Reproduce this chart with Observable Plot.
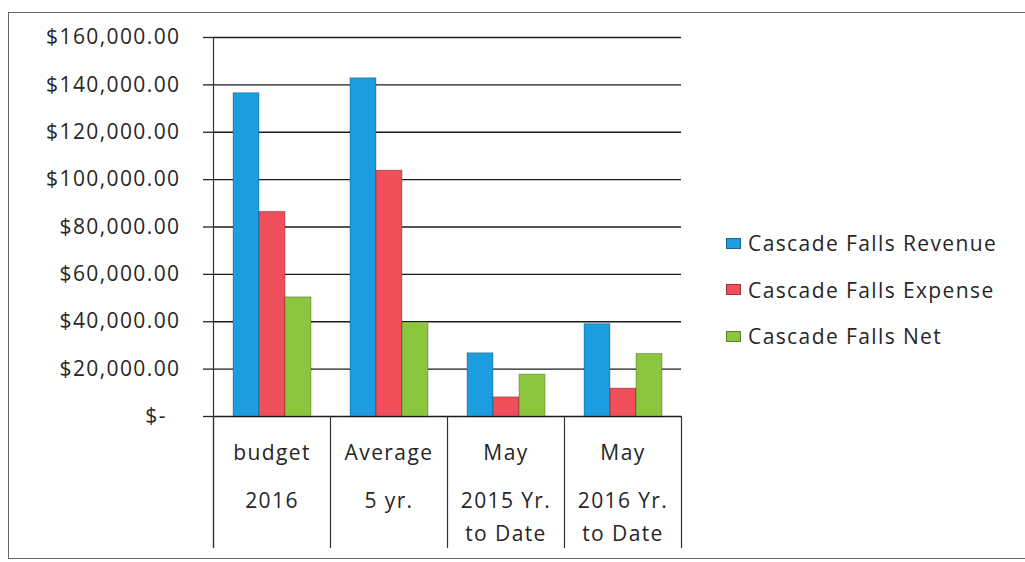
<!DOCTYPE html>
<html><head><meta charset="utf-8">
<script src="https://cdn.jsdelivr.net/npm/d3@7"></script>
<script src="https://cdn.jsdelivr.net/npm/@observablehq/plot@0.6"></script>
<style>
html,body{margin:0;padding:0;background:#fff;width:1025px;height:562px;overflow:hidden;}
#wrap{position:relative;width:1025px;height:562px;}
#border{position:absolute;left:8px;top:12px;width:1100px;height:547px;border:1.5px solid #666;border-right:none;box-sizing:border-box;}
#chart{position:absolute;left:0;top:0;}
#legend{position:absolute;left:726px;top:220px;font-family:"Open Sans";font-size:21px;letter-spacing:1.4px;color:#262626;}
.row{display:flex;align-items:center;height:46.5px;white-space:nowrap;}
.sw{width:15px;height:11px;margin-right:7px;box-sizing:border-box;border:1px solid rgba(0,0,0,0.35);}
</style></head><body>
<div id="wrap"><div id="border"></div><div id="chart"></div><div id="legend"></div></div>
<script>
const categories = ["budget 2016", "Average 5 yr.", "May 2015 Yr. to Date", "May 2016 Yr. to Date"];
const labelLine1 = ["budget", "Average", "May", "May"];
const labelLine2 = ["2016", "5 yr.", "2015 Yr.", "2016 Yr."];
const labelLine3 = ["", "", "to Date", "to Date"];
const series = ["Cascade Falls Revenue", "Cascade Falls Expense", "Cascade Falls Net"];
const revenue = [136500, 142800, 26700, 39000];
const expense = [86400, 103800, 8100, 11800];
const net = [50300, 39700, 17700, 26400];
const colors = ["#1c9de0", "#ee4f5a", "#8cc63f"];
const yTicks = [0, 20000, 40000, 60000, 80000, 100000, 120000, 140000, 160000];

const values = [revenue, expense, net];
const data = [];
categories.forEach((c, i) => {
  series.forEach((s, j) => data.push({cat: c, series: s, value: values[j][i]}));
});

const money = d3.format("$,.2f");
const fmt = d => d === 0 ? "$-\u00a0\u00a0" : money(d);

const plotH = 416 - 37;
const below = 131;
const ink = "#262626";

const chart = Plot.plot({
  width: 683, height: 562,
  marginLeft: 212, marginRight: 2, marginTop: 37, marginBottom: 146,
  style: {fontFamily: "Open Sans", fontSize: "21px", color: ink, background: "transparent", letterSpacing: "1.4px"},
  fx: {domain: categories, padding: 0, axis: null},
  x: {domain: series, paddingInner: 0, paddingOuter: 0.7, axis: null},
  y: {domain: [0, 160000], axis: null},
  color: {domain: series, range: colors},
  marks: [
    Plot.gridY(yTicks, {stroke: "#1a1a1a", strokeOpacity: 1, strokeWidth: 1.4}),
    Plot.barY(data, {fx: "cat", x: "series", y: "value", fill: "series", stroke: "#000", strokeOpacity: 0.25, strokeWidth: 1}),
    Plot.axisY(yTicks, {label: null, tickSize: 10, tickPadding: 23, tickFormat: fmt, color: ink, strokeWidth: 1.3}),
    Plot.frame({anchor: "left", facetAnchor: "left", insetBottom: -below, stroke: "#333", strokeWidth: 1.2}),
    Plot.frame({anchor: "left", insetTop: plotH, insetBottom: -below, stroke: "#333", strokeWidth: 1.2}),
    Plot.frame({anchor: "right", facetAnchor: "right", insetTop: plotH, insetBottom: -below, stroke: "#333", strokeWidth: 1.2}),
    Plot.text(categories, {fx: d => d, text: (d, i) => labelLine1[i], frameAnchor: "bottom", lineAnchor: "bottom", dy: 43, fill: ink}),
    Plot.text(categories, {fx: d => d, text: (d, i) => labelLine2[i], frameAnchor: "bottom", lineAnchor: "bottom", dy: 91, fill: ink}),
    Plot.text(categories, {fx: d => d, text: (d, i) => labelLine3[i], frameAnchor: "bottom", lineAnchor: "bottom", dy: 124, fill: ink})
  ]
});
document.getElementById("chart").appendChild(chart);

const legend = document.getElementById("legend");
series.forEach((s, i) => {
  const row = document.createElement("div");
  row.className = "row";
  const sw = document.createElement("span");
  sw.className = "sw";
  sw.style.background = colors[i];
  const t = document.createElement("span");
  t.textContent = s;
  row.appendChild(sw);
  row.appendChild(t);
  legend.appendChild(row);
});
</script>
</body></html>
